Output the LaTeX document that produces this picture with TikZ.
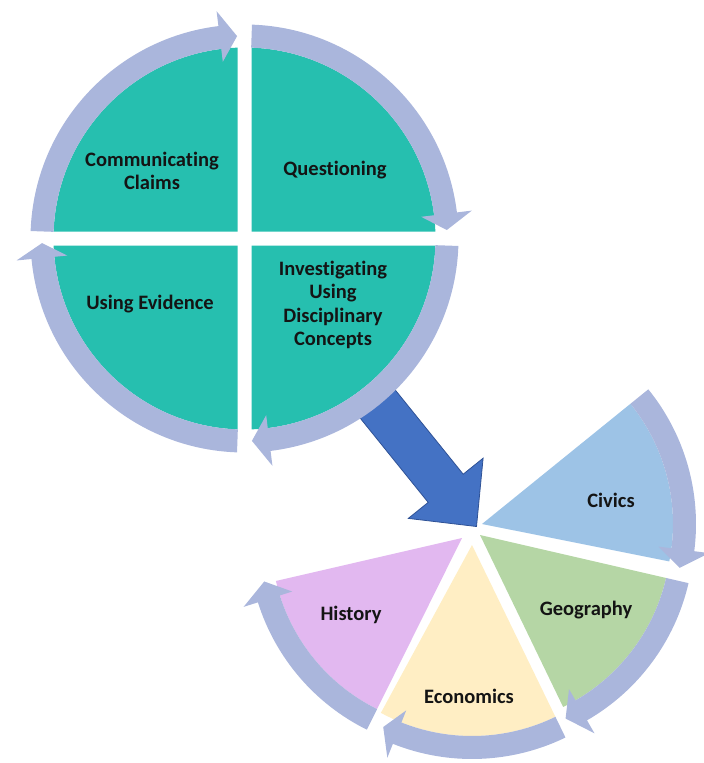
\documentclass[tikz,border=0pt]{standalone}
\usepackage{fontspec}
\setmainfont{Carlito}[Ligatures=NoCommon]
\usetikzlibrary{calc}
\definecolor{tealc}{RGB}{38,191,175}
\definecolor{bandc}{RGB}{170,182,220}
\definecolor{arrowc}{RGB}{68,114,196}
\definecolor{arrowl}{RGB}{47,82,150}
\definecolor{civc}{RGB}{157,195,230}
\definecolor{geoc}{RGB}{181,214,165}
\definecolor{ecoc}{RGB}{255,238,196}
\definecolor{hisc}{RGB}{226,184,240}
% #1 centre, #2 start angle, #3 head base angle, #4 tip angle (clockwise)
\newcommand{\cycarrow}[4]{%
  \fill[bandc] ($(#1)+(#2:214pt)$) arc[start angle=#2,end angle=#3,radius=214pt]
    -- ($(#1)+(#3:229pt)$) -- ($(#1)+(#4:202.5pt)$) -- ($(#1)+(#3:178pt)$)
    -- ($(#1)+(#3:191pt)$) arc[start angle=#3,end angle=#2,radius=191pt] -- cycle;}
% #1 apex, #2 from angle, #3 to angle, #4 colour
\newcommand{\piewedge}[4]{%
  \fill[#4] (#1) -- ($(#1)+(#2:191pt)$) arc[start angle=#2,end angle=#3,radius=191pt] -- cycle;}
\begin{document}
\begin{tikzpicture}[x=1pt,y=1pt,
  lbl/.style={font=\bfseries\fontsize{20.5}{23.5}\selectfont, text=black!92, align=center, inner sep=0pt},
  bigarrow/.style={fill=arrowc, draw=arrowl, line width=0.8pt, line join=miter}]
\useasboundingbox (0,0) rectangle (704,-763);

% ---------- big arrow (behind the cycle) ----------
\coordinate (tip) at (476.5,-526.5);
\draw[bigarrow] (387.2,-380) -- (463.2,-474.2) -- (483.1,-458.2) -- (tip)
  -- (408.3,-518.4) -- (428.2,-502.4) -- (352.2,-408.2) -- cycle;

% ---------- upper cycle ----------
\coordinate (C) at (244.5,-238.5);
\foreach \k in {0,90,180,270}{
  \begin{scope}[shift={(C)},rotate=\k]
    \fill[tealc] (7pt,7pt) -- (2.1:191pt) arc[start angle=2.1,end angle=87.9,radius=191pt] -- cycle;
  \end{scope}}
\cycarrow{C}{178}{97}{92.1}
\cycarrow{C}{88}{7}{2.4}
\cycarrow{C}{-2}{-83}{-87.9}
\cycarrow{C}{268}{185.5}{181.3}

\node[lbl] (comm) at (152,-171) {Communicating\\Claims};
\node[lbl] (quest) at (335,-170) {Questioning};
\node[lbl] (evid) at (150,-304) {Using Evidence};
\node[lbl] (invest) at (333,-305) {Investigating\\Using\\Disciplinary\\Concepts};

% ---------- lower segments ----------
\coordinate (A1) at (482,-524);
\coordinate (A2) at (480,-535);
\coordinate (A3) at (472,-545);
\coordinate (A4) at (462,-538);
\piewedge{A1}{-11.3}{39}{civc}
\piewedge{A2}{-64.2}{-13}{geoc}
\piewedge{A3}{-118.5}{-64.1}{ecoc}
\piewedge{A4}{193}{243.6}{hisc}
\cycarrow{A1}{39}{-7.3}{-12.5}
\cycarrow{A2}{-13}{-60}{-65}
\cycarrow{A3}{-64.1}{-111.7}{-116}
\cycarrow{A4}{243.6}{197.5}{192.4}

\node[lbl] (civ) at (611,-500) {Civics};
\node[lbl] (geo) at (586,-610) {Geography};
\node[lbl] (eco) at (469,-696) {Economics};
\node[lbl] (his) at (351,-615) {History};
\end{tikzpicture}
\end{document}
